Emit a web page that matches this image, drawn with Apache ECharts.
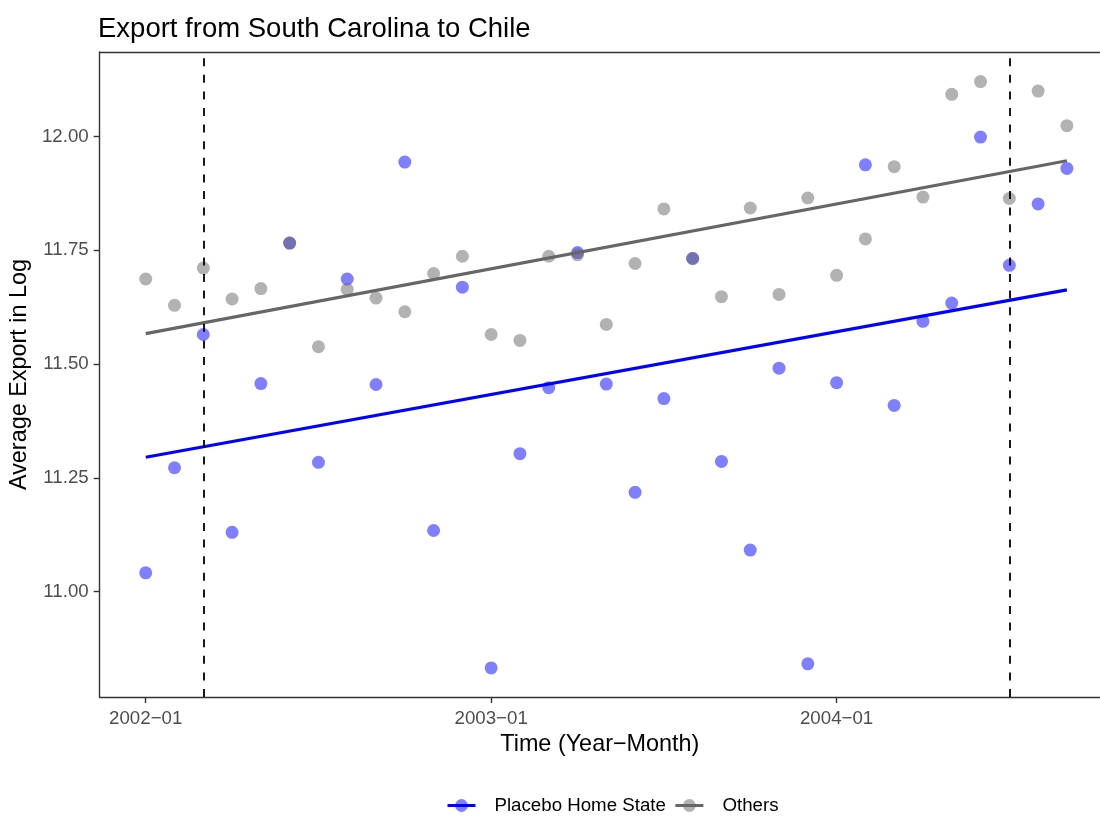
<!DOCTYPE html>
<html>
<head>
<meta charset="utf-8">
<script src="https://cdn.jsdelivr.net/npm/echarts@6/dist/echarts.min.js"></script>
<style>
  html, body { margin: 0; padding: 0; background: #ffffff; }
  #chart { width: 1100px; height: 817px; }
</style>
</head>
<body>
<div id="chart"></div>
<script>
// Months since 2002-01 (0 = 2002-01, 32 = 2004-09)
const months = [0,1,2,3,4,5,6,7,8,9,10,11,12,13,14,15,16,17,18,19,20,21,22,23,24,25,26,27,28,29,30,31,32];

// Average export (log) for the placebo home state
const placeboValues = [11.041, 11.272, 11.565, 11.130, 11.457, 11.766, 11.284, 11.687, 11.455, 11.944, 11.134,
  11.669, 10.832, 11.303, 11.448, 11.745, 11.456, 11.218, 11.424, 11.732, 11.286, 11.091, 11.491,
  10.841, 11.459, 11.938, 11.409, 11.594, 11.634, 11.999, 11.717, 11.852, 11.930];

// Average export (log) for the other states
const otherValues = [11.687, 11.629, 11.711, 11.643, 11.666, 11.766, 11.538, 11.664, 11.645, 11.615, 11.699,
  11.737, 11.565, 11.552, 11.737, 11.740, 11.587, 11.721, 11.841, 11.732, 11.648, 11.843, 11.653,
  11.865, 11.695, 11.775, 11.934, 11.867, 12.093, 12.121, 11.864, 12.100, 12.024];

// Linear trend endpoints (first and last month)
const fitMonths = [0, 32];
const placeboFit = [11.295, 11.663];
const otherFit = [11.567, 11.947];

// Vertical reference months (2002-03 and 2004-07)
const refMonths = [2, 30];

// Axis ticks
const xTickMonths = [0, 12, 24];
const xTickLabels = ['2002\u221201', '2003\u221201', '2004\u221201'];
const yTicks = [11.00, 11.25, 11.50, 11.75, 12.00];

const NAME_PLACEBO = 'Placebo Home State';
const NAME_OTHERS = 'Others';

const pairs = (xs, ys) => xs.map((x, i) => [x, ys[i]]);

const chart = echarts.init(document.getElementById('chart'), null, { renderer: 'canvas' });

const font = 'Liberation Sans, Arial, Helvetica, sans-serif';
const frame = { color: '#333333', width: 1.4 };
const tickStyle = { color: '#333333', width: 1.4 };
const bluePoint = { color: 'rgba(0,0,255,0.5)', opacity: 1 };
const greyPoint = { color: 'rgba(102,102,102,0.5)', opacity: 1 };

chart.setOption({
  animation: false,
  backgroundColor: '#ffffff',
  textStyle: { fontFamily: font },
  title: {
    text: 'Export from South Carolina to Chile',
    left: 93,
    top: 10,
    textStyle: { fontFamily: font, fontSize: 27.5, fontWeight: 'normal', color: '#000000' }
  },
  grid: {
    left: 98,
    right: 0,
    top: 52,
    bottom: 120,
    show: false,
    containLabel: false
  },
  legend: {
    top: 796,
    left: 446,
    padding: 0,
    itemWidth: 28,
    itemHeight: 16,
    itemGap: 8,
    textStyle: { fontFamily: font, fontSize: 18.7, color: '#000000', padding: [0, 0, 0, 14] },
    data: [
      { name: NAME_PLACEBO, itemStyle: bluePoint, lineStyle: { color: '#0000ff', width: 3 } },
      { name: NAME_OTHERS, itemStyle: greyPoint, lineStyle: { color: '#666666', width: 3 } }
    ]
  },
  xAxis: [
    {
      type: 'value',
      position: 'bottom',
      min: -1.6,
      max: 33.15,
      name: 'Time (Year\u2212Month)',
      nameLocation: 'middle',
      nameGap: 33,
      nameTextStyle: { fontFamily: font, fontSize: 23.4, color: '#000000' },
      axisLine: { show: true, onZero: false, lineStyle: frame },
      axisTick: { show: true, length: 6, lineStyle: tickStyle, customValues: xTickMonths },
      axisLabel: {
        customValues: xTickMonths,
        margin: 12,
        fontFamily: font,
        fontSize: 18.7,
        color: '#4d4d4d',
        formatter: (v) => xTickLabels[xTickMonths.indexOf(Math.round(v))] || ''
      },
      splitLine: { show: false }
    },
    {
      // top edge of the panel frame
      type: 'value',
      position: 'top',
      min: -1.6,
      max: 33.15,
      axisLine: { show: true, onZero: false, lineStyle: frame },
      axisTick: { show: false },
      axisLabel: { show: false },
      splitLine: { show: false }
    }
  ],
  yAxis: {
    type: 'value',
    min: 10.768,
    max: 12.186,
    name: 'Average Export in Log',
    nameLocation: 'middle',
    nameGap: 62,
    nameTextStyle: { fontFamily: font, fontSize: 23.4, color: '#000000' },
    axisLine: { show: true, onZero: false, lineStyle: frame },
    axisTick: { show: true, length: 6, lineStyle: tickStyle, customValues: yTicks },
    axisLabel: {
      customValues: yTicks,
      margin: 11,
      fontFamily: font,
      fontSize: 18.7,
      color: '#4d4d4d',
      formatter: (v) => v.toFixed(2)
    },
    splitLine: { show: false }
  },
  series: [
    {
      name: NAME_PLACEBO,
      type: 'line',
      showSymbol: false,
      symbol: 'circle',
      lineStyle: { color: '#0000ff', width: 3.2 },
      itemStyle: { color: '#0000ff' },
      data: pairs(fitMonths, placeboFit),
      z: 4
    },
    {
      name: NAME_OTHERS,
      type: 'line',
      showSymbol: false,
      symbol: 'circle',
      lineStyle: { color: '#666666', width: 3.2 },
      itemStyle: { color: '#666666' },
      data: pairs(fitMonths, otherFit),
      z: 4,
      markLine: {
        silent: true,
        symbol: ['none', 'none'],
        label: { show: false },
        lineStyle: { color: '#000000', type: [8, 8.6], width: 1.8 },
        data: refMonths.map((m) => ({ xAxis: m }))
      }
    },
    {
      name: NAME_PLACEBO,
      type: 'scatter',
      symbol: 'circle',
      symbolSize: 13,
      itemStyle: bluePoint,
      data: pairs(months, placeboValues),
      z: 2
    },
    {
      name: NAME_OTHERS,
      type: 'scatter',
      symbol: 'circle',
      symbolSize: 13,
      itemStyle: greyPoint,
      data: pairs(months, otherValues),
      z: 3
    }
  ]
});
</script>
</body>
</html>
